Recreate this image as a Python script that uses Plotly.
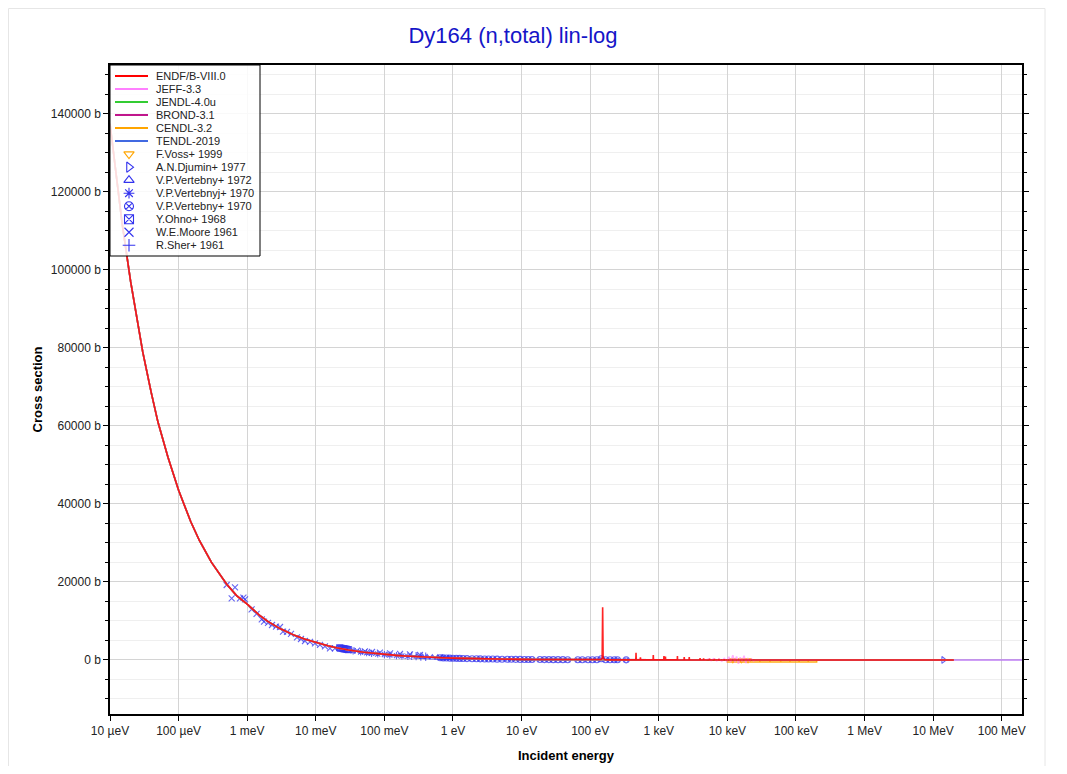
import plotly.graph_objects as go

# ---------------- data ----------------
# common low-energy part shared by the evaluations (eV, barn)
thermal_e = [1e-5, 1.5e-5, 2e-5, 3e-5, 4e-5, 5e-5, 7e-5, 1e-4, 1.5e-4, 2e-4, 3e-4, 5e-4,
             7e-4, 1e-3, 1.5e-3, 2e-3, 3e-3, 5e-3, 7e-3, 1e-2, 1.5e-2, 2e-2, 2.53e-2, 3e-2,
             5e-2, 7e-2, 0.1, 0.15, 0.2, 0.3, 0.5, 0.7, 1, 1.5, 2, 3, 5, 7, 10, 15, 20, 30,
             50, 70, 100]
thermal_sig = [137500, 112000, 97000, 79000, 68500, 61000, 52000, 43500, 35500, 30700, 25100,
               19500, 16500, 14300, 11500, 9900, 8050, 6250, 5300, 4450, 3650, 3150, 2800,
               2570, 2000, 1700, 1450, 1180, 1030, 840, 660, 560, 470, 385, 330, 270, 210,
               175, 150, 124, 108, 92, 77, 69, 62]

# ENDF/B-VIII.0 resonance region and tail
endf_e = [120, 135, 145, 149.5, 152, 154.5, 165, 200, 300, 420, 462, 466, 470, 535, 540, 545,
          700, 826, 832, 838, 1000, 1180, 1190, 1200, 1240, 1250, 1260, 1600, 1860, 1870,
          1880, 2330, 2350, 2370, 2760, 2780, 2800, 3400, 3970, 4000, 4030, 4470, 4500,
          4530, 5450, 5500, 5550, 6450, 6500, 6550, 7450, 7500, 7550, 8950, 9000, 9050,
          2e4, 1e5, 1e6, 3e6, 1e7, 1.4e7, 2e7]
endf_sig = [60, 80, 150, 400, 13500, 400, 55, 40, 30, 25, 25, 1850, 25, 22, 650, 22, 20, 20,
            1280, 20, 18, 18, 1030, 18, 18, 900, 18, 16, 16, 1030, 16, 15, 770, 15, 15, 770,
            15, 14, 14, 500, 14, 14, 450, 14, 13, 300, 13, 13, 300, 13, 13, 250, 13, 13,
            200, 13, 12, 10, 8, 7, 6, 5.5, 5]

# JEFF-3.3 tail (noisy unresolved region, extends to 200 MeV)
jeff_e = [150, 1000, 4800, 5300, 5800, 6300, 7000, 7600, 8300, 9000, 9800, 10500, 11200,
          12000, 12800, 13600, 14500, 15400, 16400, 17500, 18600, 19800, 21000, 22500,
          24000, 25500, 1e5, 1e6, 2e7, 2e8]
jeff_sig = [60, 18, 10, 200, -150, 300, -200, 250, -300, 400, -350, 800, -500, 1200, -600,
            900, -1000, 700, -400, 1100, -800, 500, -300, 300, -200, 10, 10, 8, 5, 4]

# TENDL-2019 tail (to 200 MeV)
tendl_e = [150, 1000, 1e4, 1e5, 1e6, 2e7, 2e8]
tendl_sig = [60, 18, 13, 10, 8, 5, 4]

# JENDL-4.0u and BROND-3.1 tails
jendl_e = [150, 1000, 1e4, 1e5, 1e6, 2e7]
jendl_sig = [60, 18, 13, 10, 8, 5]
brond_e = [150, 1000, 1e4, 1e5, 1e6, 2e7]
brond_sig = [60, 18, 13, 10, 8, 5]

# CENDL-3.2 tail
cendl_e = [150, 1000, 9950, 10000, 15500, 15600, 15700, 21200, 21300, 21400, 29700, 29800,
           29900, 41700, 41800, 41900, 59700, 59800, 59900, 81700, 81800, 81900, 110900,
           111000, 111100, 150900, 151000, 151100, 200000, 200500, 1e6, 2e7]
cendl_sig = [60, 15, 15, -500, -500, -60, -500, -500, -60, -500, -500, -60, -500, -500, -60,
             -500, -500, -60, -500, -500, -60, -500, -500, -60, -500, -500, -60, -500, -500,
             10, 7, 5]

# experimental data
voss_e = [12000, 16000, 20000]
voss_sig = [14, 12, 11]
djumin_e = [1.41e7]
djumin_sig = [5.5]
vert72_e = [0.3, 0.36, 0.42, 0.5, 0.6, 0.7, 0.85]
vert72_sig = [820, 750, 690, 630, 580, 535, 490]
vertj70_e = [0.035, 0.045, 0.055, 0.065, 0.08, 0.1, 0.12, 0.15, 0.18, 0.22]
vertj70_sig = [2330, 2060, 1860, 1710, 1540, 1390, 1270, 1130, 1030, 940]
vert70_e = [0.65, 0.72, 0.8, 0.9, 1.0, 1.12, 1.25, 1.4, 1.6, 1.9, 2.2, 2.5, 2.9, 3.3, 3.8,
            4.4, 5.2, 6.2, 7.1, 8.2, 9.5, 11, 12.5, 14.2, 18.5, 21.5, 25, 29, 34, 40, 47,
            66, 77, 93, 108, 125, 145, 168, 195, 225, 250, 335]
vert70_sig = [560, 530, 500, 470, 450, 420, 400, 380, 355, 325, 305, 285, 265, 250, 235,
              215, 200, 185, 170, 160, 150, 140, 130, 125, 110, 105, 98, 92, 86, 80, 76,
              68, 65, 62, 60, 75, 300, 60, 48, 45, 42, 38]
ohno_e = [0.0222, 0.0232, 0.0242, 0.0253, 0.0264, 0.0276, 0.0288, 0.03]
ohno_sig = [3150, 3050, 2950, 2900, 2850, 2780, 2700, 2650]
moore_e = [5.02e-4, 5.94e-4, 6.64e-4, 7.85e-4, 8.8e-4, 9.29e-4, 1.16e-3, 1.37e-3, 1.63e-3,
           1.76e-3, 2.01e-3, 2.3e-3, 2.63e-3, 3.01e-3, 3.33e-3, 3.8e-3, 4.35e-3, 5.32e-3,
           6.08e-3, 6.96e-3, 8.23e-3, 9.73e-3, 1.15e-2, 1.36e-2, 1.61e-2, 1.9e-2, 0.04,
           0.052, 0.066, 0.086, 0.121, 0.169, 0.236, 0.33]
moore_sig = [19230, 15820, 18640, 15820, 15970, 15560, 13000, 11800, 10440, 9820, 9490,
             8970, 8540, 8460, 7260, 7180, 6670, 5820, 5380, 4870, 4620, 4280, 3850, 3510,
             3000, 3000, 2380, 2230, 2050, 1870, 1720, 1540, 1460, 1280]
sher_e = [0.25, 0.29, 0.34, 0.4]
sher_sig = [1050, 980, 900, 830]

x_tickvals = [1e-5, 1e-4, 1e-3, 1e-2, 1e-1, 1, 10, 100, 1e3, 1e4, 1e5, 1e6, 1e7, 1e8]
x_ticktext = ["10 µeV", "100 µeV", "1 meV", "10 meV", "100 meV", "1 eV", "10 eV", "100 eV",
              "1 keV", "10 keV", "100 keV", "1 MeV", "10 MeV", "100 MeV"]

eval_names = ["ENDF/B-VIII.0", "JEFF-3.3", "JENDL-4.0u", "BROND-3.1", "CENDL-3.2", "TENDL-2019"]
eval_colors = ["#ff0000", "#ff80ff", "#33cc33", "#c0168c", "#ffa500", "#4169e1"]
exp_names = ["F.Voss+ 1999", "A.N.Djumin+ 1977", "V.P.Vertebny+ 1972", "V.P.Vertebnyj+ 1970",
             "V.P.Vertebny+ 1970", "Y.Ohno+ 1968", "W.E.Moore 1961", "R.Sher+ 1961"]
exp_symbols = ["triangle-down-open", "triangle-right-open", "triangle-up-open", "asterisk-open",
               "circle-x-open", "square-x-open", "x-thin-open", "cross-thin-open"]
exp_colors = ["#ffa500", "#3333ee", "#3333ee", "#3333ee", "#3333ee", "#3333ee", "#3333ee", "#3333ee"]

# ---------------- layout constants (pixels, figure coordinates; page offset is 8 px) ----------------
W, H = 1051, 758
L, R, T, B = 102, 1014, 57, 706
FONT = "Liberation Sans, Arial, sans-serif"

fig = go.Figure()

# experimental points (drawn beneath evaluation lines)
exp_data = [(voss_e, voss_sig), (djumin_e, djumin_sig), (vert72_e, vert72_sig),
            (vertj70_e, vertj70_sig), (vert70_e, vert70_sig), (ohno_e, ohno_sig),
            (moore_e, moore_sig), (sher_e, sher_sig)]
for (xe, ys), nm, sym, col in zip(exp_data, exp_names, exp_symbols, exp_colors):
    fig.add_trace(go.Scatter(x=xe, y=ys, mode="markers", name=nm, showlegend=False,
                             marker=dict(symbol=sym, size=6, color=col, opacity=0.75,
                                         line=dict(width=1.1, color=col))))

# evaluations
eval_data = {
    "TENDL-2019": (thermal_e + tendl_e, thermal_sig + tendl_sig),
    "CENDL-3.2": (thermal_e + cendl_e, thermal_sig + cendl_sig),
    "BROND-3.1": (thermal_e + brond_e, thermal_sig + brond_sig),
    "JENDL-4.0u": (thermal_e + jendl_e, thermal_sig + jendl_sig),
    "JEFF-3.3": (thermal_e + jeff_e, thermal_sig + jeff_sig),
    "ENDF/B-VIII.0": (thermal_e + endf_e, thermal_sig + endf_sig),
}
opac = {"TENDL-2019": 0.6, "CENDL-3.2": 0.9, "BROND-3.1": 0.7, "JENDL-4.0u": 0.7,
        "JEFF-3.3": 0.6, "ENDF/B-VIII.0": 0.85}
for nm in ["TENDL-2019", "CENDL-3.2", "BROND-3.1", "JENDL-4.0u", "JEFF-3.3", "ENDF/B-VIII.0"]:
    xe, ys = eval_data[nm]
    col = eval_colors[eval_names.index(nm)]
    fig.add_trace(go.Scatter(x=xe, y=ys, mode="lines", name=nm, showlegend=False,
                             opacity=opac[nm], line=dict(color=col, width=1.6)))

# ---------------- hand-drawn legend on a pixel-unit overlay axis ----------------
leg_right, leg_bottom = L + 150, T + 191
fig.add_trace(go.Scatter(x=[L, leg_right, leg_right, L, L], y=[T, T, leg_bottom, leg_bottom, T],
                         xaxis="x2", yaxis="y2", mode="lines", fill="toself",
                         fillcolor="rgba(255,255,255,0.85)", line=dict(color="black", width=1),
                         showlegend=False, hoverinfo="skip"))
row0, step = T + 11, 13.02
all_names = eval_names + exp_names
for i, nm in enumerate(all_names):
    yy = row0 + i * step
    if i < len(eval_names):
        fig.add_trace(go.Scatter(x=[L + 5, L + 38], y=[yy, yy], xaxis="x2", yaxis="y2",
                                 mode="lines", line=dict(color=eval_colors[i], width=2),
                                 showlegend=False, hoverinfo="skip"))
    else:
        j = i - len(eval_names)
        fig.add_trace(go.Scatter(x=[L + 19], y=[yy], xaxis="x2", yaxis="y2", mode="markers",
                                 marker=dict(symbol=exp_symbols[j], size=9, color=exp_colors[j],
                                             line=dict(width=1.1, color=exp_colors[j])),
                                 showlegend=False, hoverinfo="skip"))
    fig.add_annotation(x=L + 44, y=yy, xref="x2", yref="y2", text=nm, showarrow=False,
                       xanchor="left", yanchor="middle",
                       font=dict(family=FONT, size=11, color="#222222"))

# faint outer frame of the chart container
fig.add_shape(type="rect", xref="paper", yref="paper",
              x0=(0.5 - L) / (R - L), x1=(1037 - L) / (R - L),
              y0=(B - 800) / (B - T), y1=(B - 0.5) / (B - T),
              line=dict(color="#e6e6e6", width=1), layer="below")

fig.update_layout(
    width=W, height=H,
    margin=dict(l=L, r=W - R, t=T, b=H - B, autoexpand=False),
    paper_bgcolor="white", plot_bgcolor="white",
    font=dict(family=FONT, size=12, color="#222222"),
    title=dict(text="Dy164 (n,total) lin-log", x=505 / W, xanchor="center", xref="container",
               y=1 - 27 / H, yanchor="middle", yref="container",
               font=dict(family=FONT, size=22, color="#1515c8")),
    showlegend=False,
    xaxis=dict(type="log", range=[-5, 8.295], tickvals=x_tickvals, ticktext=x_ticktext,
               showgrid=True, gridcolor="#d4d4d4", gridwidth=1, automargin=False,
               ticks="outside", ticklen=5, tickcolor="black", tickwidth=1,
               showline=True, linecolor="black", linewidth=1.5, mirror=True,
               zeroline=False,
               title=dict(text="Incident energy", standoff=14,
                          font=dict(family=FONT, size=13, color="black", weight="bold"))),
    yaxis=dict(range=[-13850, 152560], dtick=20000, tick0=0, tickformat="d", ticksuffix=" b",
               showgrid=True, gridcolor="#d4d4d4", gridwidth=1, automargin=False,
               minor=dict(dtick=5000, tick0=0, ticks="outside", ticklen=3, tickcolor="black",
                          showgrid=True, gridcolor="#efefef"),
               ticks="outside", ticklen=5, tickcolor="black", tickwidth=1,
               showline=True, linecolor="black", linewidth=1.5, mirror="allticks",
               zeroline=False,
               title=dict(text="Cross section", standoff=5,
                          font=dict(family=FONT, size=13, color="black", weight="bold"))),
    xaxis2=dict(overlaying="x", range=[L, R], visible=False, anchor="y2", automargin=False),
    yaxis2=dict(overlaying="y", range=[B, T], visible=False, anchor="x2", automargin=False),
)

fig.write_html("out.html")
